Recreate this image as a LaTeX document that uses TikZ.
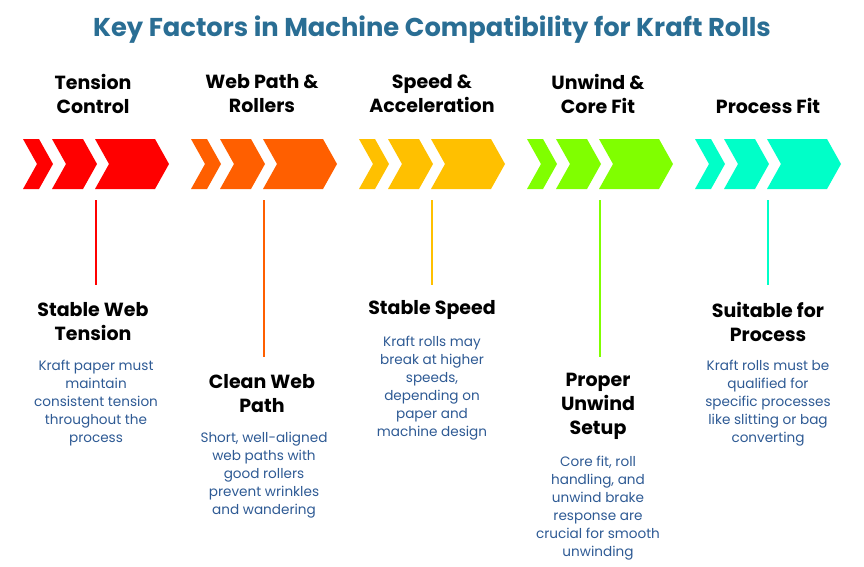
\documentclass[tikz,border=0pt]{standalone}
\usepackage{fontspec}
\setmainfont{Poppins}
\begin{document}
\begin{tikzpicture}[x=1pt,y=-1pt,
  head/.style={font=\fontsize{19}{24}\selectfont\bfseries, align=center, text=black, inner sep=0},
  body/.style={font=\fontsize{13.6}{18}\selectfont, align=center, text=txtblue, inner sep=0}]
\definecolor{txtblue}{HTML}{2E5A94}
\definecolor{ttl}{HTML}{2A6E94}
\definecolor{c1}{HTML}{FF0000}
\definecolor{c2}{HTML}{FF5F00}
\definecolor{c3}{HTML}{FFC000}
\definecolor{c4}{HTML}{80FF00}
\definecolor{c5}{HTML}{00FFC8}
\useasboundingbox (0,0) rectangle (864,566);
\node[font=\fontsize{25.8}{28}\selectfont\bfseries, text=ttl] (title) at (432,30) {Key Factors in Machine Compatibility for Kraft Rolls};
\newcommand{\chev}[3]{\fill[#3] (#1,139) -- (#2,139) -- (#2+14,164) -- (#2,189) -- (#1,189) -- (#1+14,164) -- cycle;}
\foreach \c [count=\i from 0] in {c1,c2,c3,c4,c5}{
  \pgfmathsetmacro{\o}{168*\i}
  \chev{23+\o}{39+\o}{\c}
  \chev{52+\o}{83+\o}{\c}
  \chev{95+\o}{155+\o}{\c}
}
\node[head] (h1) at (93,94) {Tension\\Control};
\node[head] (h2) at (262,94) {Web Path \&\\Rollers};
\node[head] (h3) at (432,94) {Speed \&\\Acceleration};
\node[head] (h4) at (598,94) {Unwind \&\\Core Fit};
\node[head] (h5) at (768,106) {Process Fit};
\coordinate (a1) at (96,200); \coordinate (a2) at (264,200); \coordinate (a3) at (432,200);
\coordinate (a4) at (600,200); \coordinate (a5) at (768,200);
\coordinate (b1) at (96,285); \coordinate (b2) at (264,357); \coordinate (b3) at (432,285);
\coordinate (b4) at (600,357); \coordinate (b5) at (768,285);
\foreach \i/\c in {1/c1,2/c2,3/c3,4/c4,5/c5} \draw[\c, line width=1.2pt] (a\i) -- (b\i);
\node[head] (l1) at (93,322) {Stable Web\\Tension};
\node[body] (t1) at (96,403) {Kraft paper must\\maintain\\consistent tension\\throughout the\\process};
\node[head] (l2) at (262,394) {Clean Web\\Path};
\node[body] (t2) at (264,475) {Short, well-aligned\\web paths with\\good rollers\\prevent wrinkles\\and wandering};
\node[head] (l3) at (432,310) {Stable Speed};
\node[body] (t3) at (432,388) {Kraft rolls may\\break at higher\\speeds,\\depending on\\paper and\\machine design};
\node[head] (l4) at (598,406) {Proper\\Unwind\\Setup};
\node[body] (t4) at (598,508) {Core fit, roll\\handling, and\\unwind brake\\response are\\crucial for smooth\\unwinding};
\node[head] (l5) at (768,322) {Suitable for\\Process};
\node[body] (t5) at (768,403) {Kraft rolls must be\\qualified for\\specific processes\\like slitting or bag\\converting};
\end{tikzpicture}
\end{document}
